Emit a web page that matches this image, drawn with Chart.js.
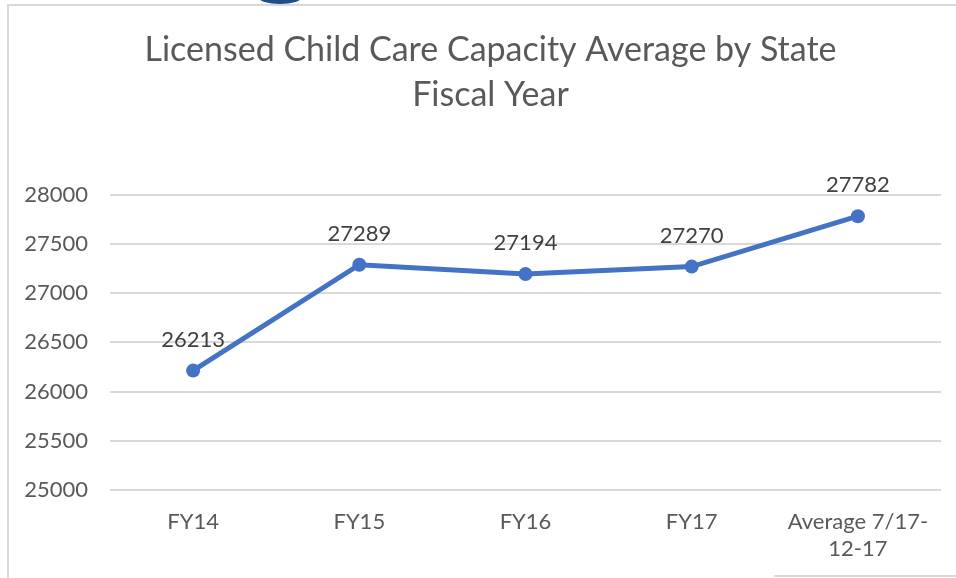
<!DOCTYPE html>
<html>
<head>
<meta charset="utf-8">
<script src="https://cdn.jsdelivr.net/npm/chart.js@4"></script>
<style>
  body { margin: 0; background: #fff; overflow: hidden; }
  #frame { position: absolute; left: 7px; top: 4px; width: 960px; height: 600px;
           border-left: 2px solid #d9d9d9; border-top: 2px solid #d9d9d9; }
  #tab { position: absolute; left: 258px; top: -10px; width: 44px; height: 14px;
         background: #1f4e86; border-radius: 50%; }
  #foot { position: absolute; left: 774px; top: 575px; width: 190px; height: 2px; background: #d9d9d9; }
  #myChart { position: absolute; left: 0; top: 0; }
</style>
</head>
<body>
<div id="frame"></div>
<div id="tab"></div>
<div id="foot"></div>
<canvas id="myChart" width="956" height="578"></canvas>
<script>
const categories = ["FY14", "FY15", "FY16", "FY17", ["Average 7/17-", "12-17"]];
const capacity = [26213, 27289, 27194, 27270, 27782];
const titleLines = ["Licensed Child Care Capacity Average by State", "Fiscal Year"];
const yMin = 25000;
const yMax = 28000;
const yStep = 500;

const textColor = "#595959";
const fontFamily = "Lato, 'Open Sans', sans-serif";

// draws the number above each point
const valueLabels = {
  id: "valueLabels",
  afterDatasetsDraw(chart) {
    const ctx = chart.ctx;
    const meta = chart.getDatasetMeta(0);
    ctx.save();
    ctx.font = "22px " + fontFamily;
    ctx.fillStyle = "#404040";
    ctx.textAlign = "center";
    ctx.textBaseline = "middle";
    meta.data.forEach((pt, i) => {
      ctx.fillText(capacity[i], pt.x, pt.y - 31);
    });
    ctx.restore();
  }
};

// title in the original sits a bit right of the canvas centre
const shiftTitle = {
  id: "shiftTitle",
  afterLayout(chart) {
    if (chart.titleBlock) chart.titleBlock.left = 40;
  }
};

let myLineChart = document.getElementById("myChart").getContext("2d");
myLineChart = new Chart(myLineChart, {
  type: "line",
  data: {
    labels: categories,
    datasets: [
      {
        data: capacity,
        borderColor: "#4472C4",
        backgroundColor: "#4472C4",
        borderWidth: 5,
        pointRadius: 7,
        pointBorderWidth: 0,
        pointBackgroundColor: "#4472C4",
        tension: 0
      }
    ]
  },
  options: {
    responsive: false,
    animation: false,
    layout: { padding: { left: 0, right: 15, top: 0, bottom: 0 } },
    plugins: {
      legend: { display: false },
      tooltip: { enabled: false },
      title: {
        display: true,
        text: titleLines,
        color: textColor,
        font: { family: fontFamily, size: 34, weight: "normal", lineHeight: 1.32 },
        padding: { top: 27.5, bottom: 77.5 }
      }
    },
    scales: {
      x: {
        offset: true,
        grid: { display: false, drawTicks: false },
        border: { display: false },
        ticks: {
          color: textColor,
          font: { family: fontFamily, size: 22, lineHeight: 1.2 },
          padding: 19,
          maxRotation: 0,
          autoSkip: false
        },
        afterFit: s => { s.height = 88; }
      },
      y: {
        min: yMin,
        max: yMax,
        grid: { color: "#d9d9d9", lineWidth: 2, drawTicks: false },
        border: { display: false },
        ticks: {
          stepSize: yStep,
          color: textColor,
          font: { family: fontFamily, size: 22 },
          padding: 22,
          callback: v => String(v)
        },
        afterFit: s => { s.width = 110; }
      }
    }
  },
  plugins: [valueLabels, shiftTitle]
});
</script>
</body>
</html>
